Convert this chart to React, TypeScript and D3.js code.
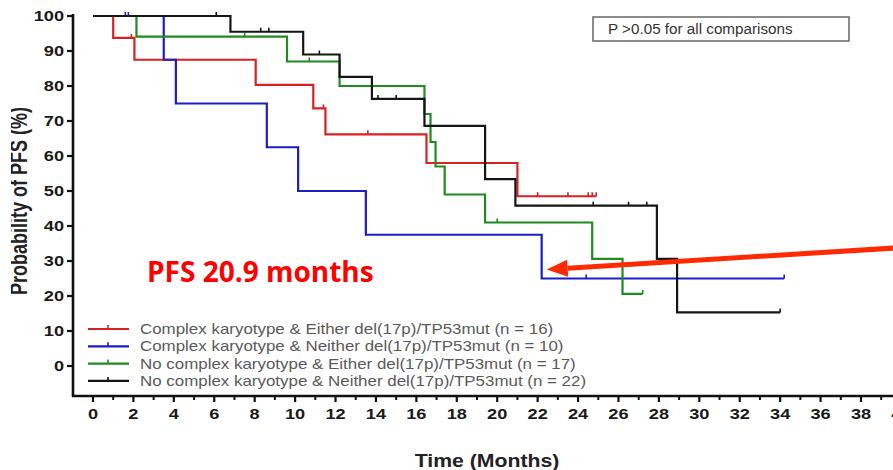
import React from "react";
import * as d3 from "d3";

// Kaplan–Meier step data: [month, PFS %] at each event, plus censor marks
const redSteps: [number, number][] = [[0, 100], [1.0, 93.75], [2.05, 87.5], [8.05, 80.3], [10.9, 73.6], [11.5, 66.2], [16.5, 58], [21.0, 48.5]];
const redEnd = 24.9;
const redCensors = [1.9, 11.4, 13.6, 22.0, 23.5, 24.5, 24.7, 24.9];

const blueSteps: [number, number][] = [[0, 100], [3.5, 87.5], [4.1, 75], [8.6, 62.5], [10.15, 50], [13.5, 37.5], [22.2, 25]];
const blueEnd = 34.2;
const blueCensors = [1.6, 1.75, 24.4, 34.2];

const greenSteps: [number, number][] = [[0, 100], [2.15, 94.1], [9.6, 87], [12.2, 80], [16.4, 72], [16.7, 64], [16.95, 57], [17.4, 49], [19.4, 41], [24.7, 30.6], [26.2, 20.6]];
const greenEnd = 27.2;
const greenCensors = [7.5, 10.7, 20.0, 27.2];

const blackSteps: [number, number][] = [[0, 100], [6.8, 95.5], [10.4, 89], [12.2, 82.6], [13.8, 76.3], [16.4, 68.6], [19.4, 53.4], [20.9, 45.8], [27.9, 30.6], [28.9, 15.3]];
const blackEnd = 34.0;
const blackCensors = [6.1, 8.3, 8.7, 11.2, 14.1, 15.0, 24.75, 26.5, 27.4, 34.0];

const legendLabels = [
  "Complex karyotype & Either del(17p)/TP53mut (n = 16)",
  "Complex karyotype & Neither del(17p)/TP53mut (n = 10)",
  "No complex karyotype & Either del(17p)/TP53mut (n = 17)",
  "No complex karyotype & Neither del(17p)/TP53mut (n = 22)",
];
const seriesColors = ["#d62222", "#1c1cc4", "#218a21", "#151515"];

const yTicks = [0, 10, 20, 30, 40, 50, 60, 70, 80, 90, 100];
const xTicks = d3.range(0, 42, 2);
const xMinorTicks = d3.range(1, 42, 2);

const pNote = "P >0.05 for all comparisons";
const pfsNote = "PFS 20.9 months";
const pfsMarkMonth = 22.2;
const pfsMarkValue = 25;

const W = 893;
const H = 470;

export default function App() {
  const x = d3.scaleLinear().domain([0, 38]).range([93, 861]);
  const y = d3.scaleLinear().domain([0, 100]).range([366, 16]);
  const axisX = 73;
  const axisY = 396;

  const series = [
    { steps: redSteps, end: redEnd, censors: redCensors },
    { steps: blueSteps, end: blueEnd, censors: blueCensors },
    { steps: greenSteps, end: greenEnd, censors: greenCensors },
    { steps: blackSteps, end: blackEnd, censors: blackCensors },
  ];

  const line = d3
    .line<[number, number]>()
    .x((d) => x(d[0]))
    .y((d) => y(d[1]))
    .curve(d3.curveStepAfter);

  const valueAt = (steps: [number, number][], t: number) => {
    let v = steps[0][1];
    for (const s of steps) if (s[0] <= t) v = s[1];
    return v;
  };

  // arrow pointing at the median marker
  const tipX = x(pfsMarkMonth) + 5;
  const tipY = y(pfsMarkValue) - 9;
  const tailX = W + 2;
  const tailY = 248;
  const ang = Math.atan2(tailY - tipY, tailX - tipX);
  const headLen = 21;
  const headHalf = 8.5;
  const bx = tipX + Math.cos(ang) * headLen;
  const by = tipY + Math.sin(ang) * headLen;
  const px = -Math.sin(ang) * headHalf;
  const py = Math.cos(ang) * headHalf;

  return (
    <svg
      width={W}
      height={H}
      style={{ position: "absolute", left: 0, top: 0, background: "#fff" }}
      fontFamily="'Liberation Sans', Arial, sans-serif"
    >
      <defs>
        <clipPath id="ylabClip">
          <rect x={11} y={0} width={40} height={H} />
        </clipPath>
      </defs>
      <rect x={0} y={0} width={W} height={H} fill="#fff" />

      {/* Y axis */}
      <line x1={axisX} x2={axisX} y1={y(100) - 2} y2={axisY + 1} stroke="#111" strokeWidth={2.6} />
      {yTicks.map((t) => (
        <g key={"yt" + t}>
          <line x1={axisX - 6} x2={axisX} y1={y(t)} y2={y(t)} stroke="#111" strokeWidth={2.2} />
          <text
            transform={`translate(${axisX - 9},${y(t) + 5}) scale(1.3,1)`}
            textAnchor="end"
            fontSize={14}
            fontWeight="bold"
            fill="#1a1a1a"
          >
            {t}
          </text>
        </g>
      ))}

      {/* X axis */}
      <line x1={axisX - 1} x2={W} y1={axisY} y2={axisY} stroke="#111" strokeWidth={2.6} />
      {xTicks.map((t) => (
        <g key={"xt" + t}>
          <line x1={x(t)} x2={x(t)} y1={axisY} y2={axisY + 6} stroke="#111" strokeWidth={2.2} />
          <text
            transform={`translate(${x(t)},${axisY + 23}) scale(1.3,1)`}
            textAnchor="middle"
            fontSize={14}
            fontWeight="bold"
            fill="#1a1a1a"
          >
            {t}
          </text>
        </g>
      ))}
      {xMinorTicks.map((t) => (
        <line key={"xm" + t} x1={x(t)} x2={x(t)} y1={axisY} y2={axisY + 4} stroke="#111" strokeWidth={2} />
      ))}

      {/* Axis titles */}
      <g clipPath="url(#ylabClip)">
        <text
          transform={`translate(27,${201}) rotate(-90) scale(1,1.3)`}
          textAnchor="middle"
          fontSize={18}
          fontWeight="bold"
          fill="#222"
        >
          Probability of PFS (%)
        </text>
      </g>
      <text
        transform={`translate(487,467) scale(1.18,1)`}
        textAnchor="middle"
        fontSize={18}
        fontWeight="bold"
        fill="#222"
      >
        Time (Months)
      </text>

      {/* Survival curves */}
      {series.map((s, i) => {
        const pts: [number, number][] = [...s.steps, [s.end, s.steps[s.steps.length - 1][1]]];
        return (
          <g key={"s" + i}>
            <path d={line(pts) || ""} fill="none" stroke={seriesColors[i]} strokeWidth={2.2} />
            {s.censors.map((c, j) => {
              const v = valueAt(s.steps, c);
              return (
                <line
                  key={j}
                  x1={x(c)}
                  x2={x(c)}
                  y1={y(v) - 4}
                  y2={y(v)}
                  stroke={seriesColors[i]}
                  strokeWidth={1.6}
                />
              );
            })}
          </g>
        );
      })}

      {/* Legend */}
      {legendLabels.map((lab, i) => {
        const ly = 329 + i * 17.3;
        return (
          <g key={"lg" + i}>
            <line x1={88} x2={129} y1={ly} y2={ly} stroke={seriesColors[i]} strokeWidth={2.2} />
            <line x1={108} x2={108} y1={ly - 4} y2={ly} stroke={seriesColors[i]} strokeWidth={1.6} />
            <text
              transform={`translate(140,${ly + 5}) scale(1.21,1)`}
              fontSize={14}
              fill="#5a5a5a"
            >
              {lab}
            </text>
          </g>
        );
      })}

      {/* Comparison note */}
      <rect x={593} y={17} width={256} height={24} fill="#fff" stroke="#666" strokeWidth={1.5} />
      <text transform="translate(608,34) scale(1.05,1)" fontSize={14.5} fill="#333">
        {pNote}
      </text>

      {/* Median PFS callout */}
      <text x={147} y={282} fontSize={28} fontWeight="bold" fill="#ff0000" fontFamily="'Open Sans', sans-serif">
        {pfsNote}
      </text>
      <line x1={tailX} y1={tailY} x2={bx} y2={by} stroke="#ff2a00" strokeWidth={5} />
      <polygon
        points={`${tipX},${tipY} ${bx + px},${by + py} ${bx - px},${by - py}`}
        fill="#ff2a00"
      />
    </svg>
  );
}
